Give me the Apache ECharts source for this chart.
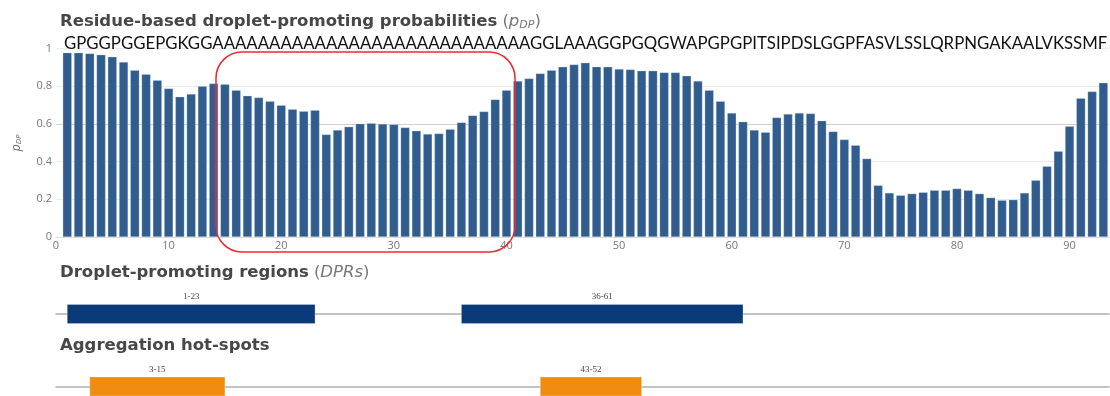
<!DOCTYPE html>
<html>
<head>
<meta charset="utf-8">
<script src="https://cdn.jsdelivr.net/npm/echarts@6/dist/echarts.min.js"></script>
<style>html,body{margin:0;padding:0;background:#fff}#c{width:1110px;height:396px}</style>
</head>
<body>
<div id="c"></div>
<script>
// ---- data ----
const sequence = 'GPGGPGGEPGKGG' + 'AAAAAAAAAAAAAAAAAAAAAAAAAAAA' + 'GGLAAAGGPGQGWAPGPGPITSIPDSLGGPFASVLSSLQRPNGAKAALVKSSMF';
const pDP = [0.978,0.978,0.974,0.967,0.956,0.928,0.885,0.864,0.832,0.788,
  0.744,0.758,0.800,0.814,0.811,0.779,0.749,0.740,0.720,0.699,
  0.678,0.667,0.673,0.544,0.567,0.585,0.601,0.604,0.600,0.597,
  0.581,0.563,0.546,0.549,0.572,0.608,0.645,0.666,0.730,0.779,
  0.827,0.841,0.868,0.885,0.903,0.915,0.924,0.903,0.903,0.891,
  0.889,0.882,0.882,0.873,0.873,0.855,0.827,0.779,0.720,0.658,
  0.612,0.567,0.556,0.634,0.652,0.658,0.655,0.617,0.560,0.517,
  0.487,0.416,0.274,0.234,0.221,0.230,0.237,0.248,0.248,0.257,
  0.248,0.230,0.209,0.195,0.198,0.234,0.301,0.375,0.455,0.587,
  0.736,0.772,0.818];
const dprStart = [1, 36];
const dprEnd = [23, 61];
const hotStart = [3, 43];
const hotEnd = [15, 52];
const yTicks = [0, 0.2, 0.4, 0.6, 0.8, 1];
const xTicks = [0, 10, 20, 30, 40, 50, 60, 70, 80, 90];

const chart = echarts.init(document.getElementById('c'), null, {renderer: 'canvas'});

function rangeRenderer(color) {
  return function (params, api) {
    const s = api.coord([api.value(0), 0]);
    const e = api.coord([api.value(1), 0]);
    return {
      type: 'group',
      children: [
        {type: 'rect', shape: {x: s[0], y: s[1] - 9.5, width: e[0] - s[0], height: 19},
         style: {fill: color, stroke: 'rgba(255,255,255,0.5)', lineWidth: 0.5}},
        {type: 'text', style: {text: api.value(0) + '-' + api.value(1), x: (s[0] + e[0]) / 2, y: s[1] - 17,
          align: 'center', verticalAlign: 'middle', font: '9px "Liberation Serif"', fill: '#444'}}
      ]
    };
  };
}

const F = 'DejaVu Sans';
const titleRich = {
  b: {fontFamily: F, fontWeight: 'bold', fontSize: 16.5, color: '#474747'},
  n: {fontFamily: F, fontWeight: 'normal', fontSize: 16.5, color: '#777'},
  i: {fontFamily: F, fontWeight: 'normal', fontStyle: 'italic', fontSize: 16.5, color: '#777'},
  s: {fontFamily: F, fontWeight: 'normal', fontStyle: 'italic', fontSize: 11, color: '#777', verticalAlign: 'bottom', padding: [7, 0, 0, 0]}
};

const hiddenY = (gi) => ({gridIndex: gi, type: 'value', min: -1, max: 1, show: false});
const trackX = (gi) => ({gridIndex: gi, type: 'value', min: 0, max: 93.5,
  axisLine: {show: true, onZero: true, lineStyle: {color: '#b0b0b0', width: 1.5}},
  axisTick: {show: false}, axisLabel: {show: false}, splitLine: {show: false}});

chart.setOption({
  animation: false,
  title: [
    {left: 55, top: 8, text: '{b|Residue-based droplet-promoting probabilities} {n|(}{i|p}{s|DP}{n|)}', textStyle: {fontWeight: 'normal', rich: titleRich}},
    {left: 59, top: 30, text: sequence, textStyle: {fontFamily: 'Lato', fontSize: 16.8, fontWeight: 'normal', color: '#111'}},
    {left: 55, top: 259, text: '{b|Droplet-promoting regions} {n|(}{i|DPRs}{n|)}', textStyle: {fontWeight: 'normal', rich: titleRich}},
    {left: 55, top: 332, text: '{b|Aggregation hot-spots}', textStyle: {fontWeight: 'normal', rich: titleRich}}
  ],
  grid: [
    {left: 56, right: 1, top: 48.5, height: 188.5},
    {left: 56, right: 1, top: 304, height: 20},
    {left: 56, right: 1, top: 377, height: 20}
  ],
  xAxis: [
    {gridIndex: 0, type: 'value', min: 0, max: 93.5, interval: 10,
     axisLine: {show: true, lineStyle: {color: '#ddd'}}, axisTick: {show: false},
     axisLabel: {color: '#777', fontSize: 11, fontFamily: 'Open Sans', margin: 3, showMaxLabel: true,
       customValues: xTicks},
     splitLine: {show: false}},
    trackX(1), trackX(2)
  ],
  yAxis: [
    {gridIndex: 0, type: 'value', min: 0, max: 1, interval: 0.2,
     name: '{i|p}{s|DP}', nameLocation: 'middle', nameGap: 33, nameRotate: 90,
     nameTextStyle: {rich: {i: {fontFamily: 'Open Sans', fontStyle: 'italic', fontSize: 12, color: '#666'},
       s: {fontFamily: 'Open Sans', fontStyle: 'italic', fontSize: 8, color: '#666', verticalAlign: 'bottom', padding: [5, 0, 0, 0]}}},
     axisLine: {show: false}, axisTick: {show: false},
     axisLabel: {color: '#777', fontSize: 11, fontFamily: 'Open Sans', margin: 4},
     splitLine: {show: true, lineStyle: {color: '#ebebeb', width: 1}}},
    hiddenY(1), hiddenY(2)
  ],
  series: [
    {type: 'bar', xAxisIndex: 0, yAxisIndex: 0, barWidth: 9,
     data: pDP.map((v, i) => [i + 1, v]),
     itemStyle: {color: '#305c8e', borderColor: 'rgba(200,215,235,0.6)', borderWidth: 0.5},
     markLine: {silent: true, symbol: 'none', label: {show: false},
       lineStyle: {color: '#cfcfcf', width: 1.2, type: 'solid'}, data: [{yAxis: yTicks[3]}], z: 0}},
    {type: 'custom', xAxisIndex: 1, yAxisIndex: 1, clip: false,
     data: dprStart.map((s, i) => [s, dprEnd[i]]), renderItem: rangeRenderer('#0a3a78')},
    {type: 'custom', xAxisIndex: 2, yAxisIndex: 2, clip: false,
     data: hotStart.map((s, i) => [s, hotEnd[i]]), renderItem: rangeRenderer('#f08c10')}
  ],
  graphic: [
    {type: 'rect', z: 100, shape: {x: 216, y: 52, width: 299, height: 200, r: 26},
     style: {fill: 'none', stroke: '#ee2a2e', lineWidth: 1.5}}
  ]
});
</script>
</body>
</html>
